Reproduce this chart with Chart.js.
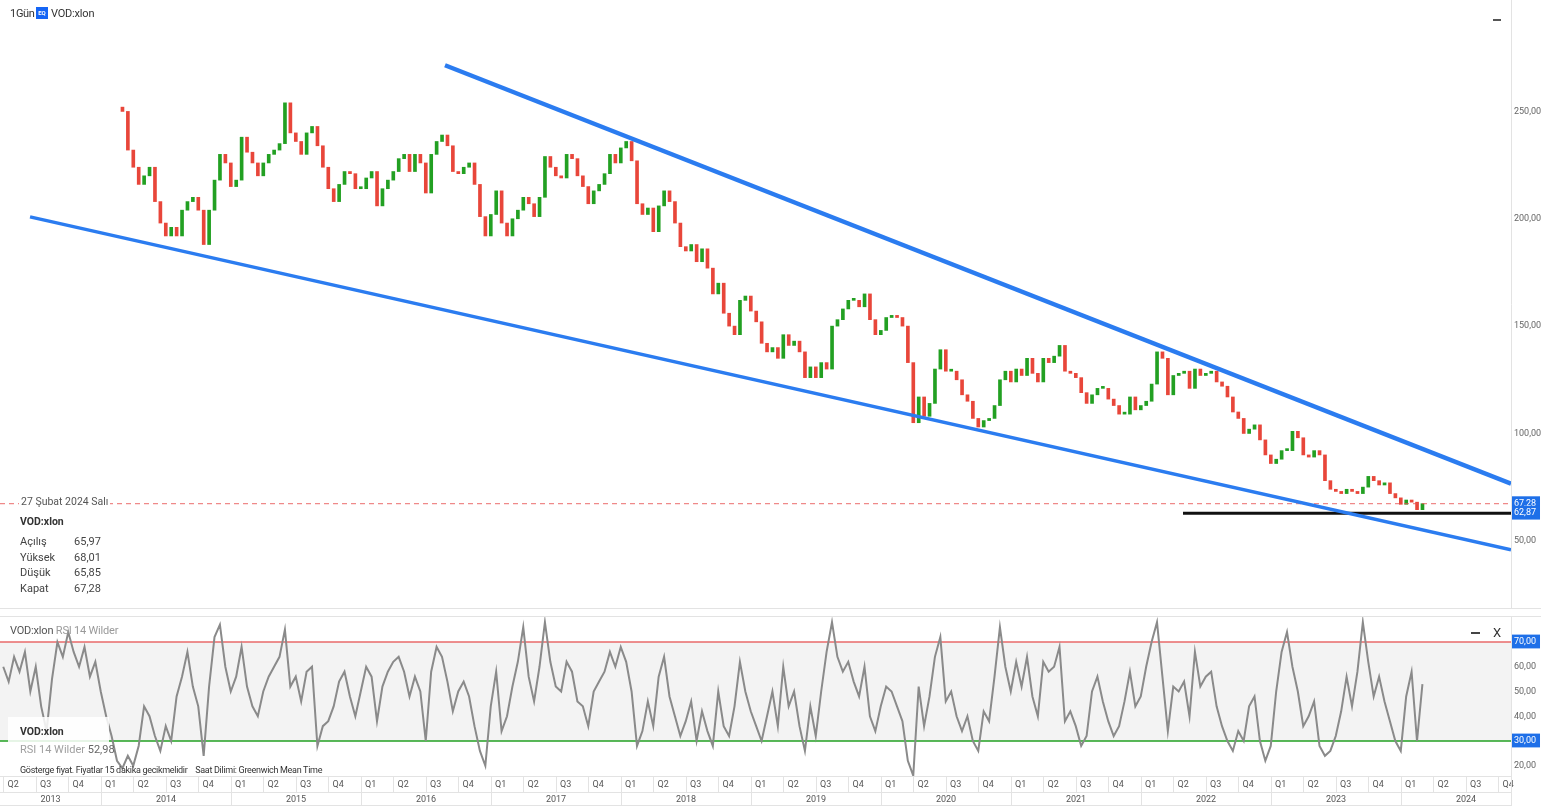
<!DOCTYPE html>
<html>
<head>
<meta charset="utf-8">
<script src="https://cdn.jsdelivr.net/npm/chart.js@4.4.1/dist/chart.umd.min.js"></script>
<style>
  body { margin: 0; width: 1541px; height: 809px; overflow: hidden; background: #fff;
         font-family: Roboto, "Liberation Sans", Arial, sans-serif; position: relative; }
  .box { position: absolute; }
  .t { position: absolute; white-space: nowrap; color: #444; line-height: 1; }
  .hl { position: absolute; background: #e3e3e3; }
</style>
</head>
<body>
<div class="box" style="left:0;top:0;width:1541px;height:608px"><canvas id="priceChart"></canvas></div>
<div class="box" style="left:0;top:608px;width:1541px;height:201px"><canvas id="rsiChart"></canvas></div>

<!-- panel separators -->
<div class="hl" style="left:0;top:608px;width:1541px;height:1px"></div>
<div class="hl" style="left:0;top:616px;width:1541px;height:1px"></div>
<div class="hl" style="left:0;top:805px;width:1511px;height:1px"></div>
<div class="hl" style="left:1511px;top:776px;width:1px;height:30px"></div>

<!-- price panel texts -->
<div class="t" style="left:10px;top:8px;font-size:11px;letter-spacing:-0.3px;color:#333">1Gün</div>
<div class="t" style="left:36px;top:7px;width:12px;height:12px;background:#1565f5;color:#fff;font-size:6px;font-weight:bold;line-height:12px;text-align:center">EQ</div>
<div class="t" style="left:51px;top:8px;font-size:11px;letter-spacing:-0.2px;color:#333">VOD:xlon</div>
<div class="t" style="left:1493px;top:19px;width:8px;height:1.5px;background:#555"></div>

<div class="t" style="left:19px;top:497px;font-size:10.5px;color:#555;background:#fff;padding:0 2px">27 Şubat 2024 Salı</div>
<div class="t" style="left:12px;top:512px;width:98px;height:86px;background:#fff"></div>
<div class="t" style="left:20px;top:517px;font-size:10.5px;font-weight:bold;color:#333">VOD:xlon</div>
<div class="t" style="left:20px;top:536px;font-size:11px">Açılış</div>
<div class="t" style="left:20px;top:552px;font-size:11px">Yüksek</div>
<div class="t" style="left:20px;top:567px;font-size:11px">Düşük</div>
<div class="t" style="left:20px;top:583px;font-size:11px">Kapat</div>
<div class="t" style="left:60px;width:41px;text-align:right;top:536px;font-size:11px">65,97</div>
<div class="t" style="left:60px;width:41px;text-align:right;top:552px;font-size:11px">68,01</div>
<div class="t" style="left:60px;width:41px;text-align:right;top:567px;font-size:11px">65,85</div>
<div class="t" style="left:60px;width:41px;text-align:right;top:583px;font-size:11px">67,28</div>

<!-- RSI panel texts -->
<div class="t" style="left:10px;top:625px;font-size:11px;letter-spacing:-0.2px;color:#555">VOD:xlon <span style="color:#9a9a9a">RSI 14 Wilder</span></div>
<div class="t" style="left:1471px;top:632px;width:9px;height:1.5px;background:#444"></div>
<div class="t" style="left:1493px;top:626px;font-size:13px;color:#333">X</div>
<div class="t" style="left:8px;top:717px;width:101px;height:41px;background:rgba(255,255,255,0.85)"></div>
<div class="t" style="left:20px;top:727px;font-size:10.5px;font-weight:bold;color:#333">VOD:xlon</div>
<div class="t" style="left:20px;top:744px;font-size:11px;color:#a0a0a0">RSI 14 Wilder <span style="color:#666">52,98</span></div>
<div class="t" style="left:20px;top:766px;font-size:9px;letter-spacing:-0.3px;color:#333">Gösterge fiyat. Fiyatlar 15 dakika gecikmelidir&nbsp;&nbsp;&nbsp;&nbsp;Saat Dilimi: Greenwich Mean Time</div>

<script>
// ---- data ----
// one value per half month; price bars start late Feb 2014, RSI starts Apr 2013
const priceStart = 2014.165;
const rsiStart = 2013.248;
const stepYears = 1 / 24;
const firstOpen = 252;

const closes = [
  250, 232, 224, 216, 220, 224, 208, 198, 192, 196,
  192, 204, 208, 210, 204, 188, 204, 218, 230, 226,
  215, 218, 238, 231, 226, 220, 226, 230, 232, 235,
  254, 240, 236, 230, 240, 243, 234, 224, 214, 208,
  216, 222, 221, 214, 214, 219, 222, 206, 214, 218,
  222, 228, 230, 222, 230, 226, 212, 230, 236, 239,
  234, 222, 221, 224, 226, 216, 201, 192, 202, 213,
  198, 192, 200, 204, 210, 207, 201, 210, 229, 224,
  220, 219, 230, 228, 220, 215, 207, 213, 216, 221,
  230, 226, 233, 236, 227, 207, 202, 205, 194, 206,
  213, 208, 198, 187, 185, 188, 180, 186, 177, 165,
  170, 156, 150, 146, 162, 164, 157, 152, 142, 138,
  140, 135, 146, 141, 143, 138, 126, 131, 126, 133,
  130, 150, 153, 158, 162, 162, 159, 165, 153, 146,
  148, 154, 155, 154, 150, 133, 105, 117, 108, 114,
  130, 139, 129, 129, 125, 118, 115, 107, 103, 106,
  107, 113, 125, 129, 124, 130, 127, 135, 128, 124,
  135, 133, 136, 141, 129, 128, 126, 119, 114, 118,
  121, 121, 116, 113, 109, 109, 117, 111, 113, 115,
  123, 138, 135, 118, 127, 128, 129, 121, 130, 127,
  128, 129, 124, 122, 117, 110, 107, 100, 102, 104,
  97, 90, 86, 88, 92, 92, 101, 98, 90, 89,
  92, 90, 78, 74, 73, 72, 74, 73, 72, 75,
  80, 78, 76, 77, 72, 70, 67, 69, 68, 64.5,
  67.28
];

const rsi14 = [
  60, 54, 64, 58, 66, 50, 60, 44, 34, 55,
  70, 64, 74, 66, 60, 68, 56, 62, 50, 40,
  32, 22, 19, 24, 20, 28, 44, 40, 32, 26,
  36, 30, 48, 56, 66, 52, 44, 24, 52, 72,
  77, 60, 50, 56, 68, 52, 44, 40, 50, 56,
  60, 64, 75, 52, 56, 46, 58, 60, 28, 36,
  38, 44, 54, 58, 48, 40, 50, 60, 56, 38,
  52, 58, 62, 64, 58, 48, 56, 50, 30, 58,
  68, 64, 54, 42, 50, 54, 48, 36, 26, 20,
  44, 58, 34, 40, 52, 62, 76, 56, 46, 60,
  78, 62, 52, 50, 62, 58, 46, 44, 36, 50,
  54, 58, 66, 60, 68, 62, 50, 28, 34, 46,
  36, 56, 64, 48, 40, 32, 38, 46, 30, 42,
  34, 28, 50, 36, 32, 44, 62, 50, 42, 36,
  30, 40, 50, 36, 60, 44, 50, 36, 26, 44,
  32, 50, 66, 78, 64, 58, 62, 54, 48, 60,
  40, 34, 44, 52, 50, 44, 38, 22, 16, 52,
  36, 48, 64, 72, 46, 50, 40, 34, 40, 30,
  26, 42, 38, 56, 76, 60, 50, 62, 52, 64,
  48, 40, 62, 58, 60, 68, 38, 42, 36, 28,
  32, 50, 56, 46, 38, 32, 36, 46, 58, 44,
  48, 60, 70, 78, 56, 34, 52, 50, 54, 40,
  66, 52, 56, 58, 44, 36, 30, 26, 34, 30,
  44, 48, 30, 22, 28, 50, 66, 74, 60, 50,
  36, 40, 46, 28, 24, 26, 32, 42, 56, 44,
  58, 78, 62, 48, 56, 46, 38, 30, 26, 48,
  58, 30, 52.98
];

const priceTicks = [50, 100, 150, 200, 250];
const rsiTicks = [20, 30, 40, 50, 60, 70];
const rsiUpper = 70;
const rsiLower = 30;
const lastClose = 67.28;
const supportLevel = 62.87;
const quarterNames = ['Q1', 'Q2', 'Q3', 'Q4'];
const years = [2013, 2014, 2015, 2016, 2017, 2018, 2019, 2020, 2021, 2022, 2023, 2024];

// drawn trendlines: [decimal year, price]
const upperTrend = [[2016.646, 271.5], [2024.846, 76.6]];
const lowerTrend = [[2013.454, 200.9], [2024.846, 45.8]];
const supportFrom = 2022.323;

// ---- view ----
const xMin = 2013.223, xMax = 2024.846;
const xRight = xMin + 1541 / 130;   // year row runs under the price axis too
const blue = '#2b7cf0';
const up = '#22a022', down = '#e8463a';
const axisBlue = '#1e6fe8';

Chart.defaults.font.family = 'Roboto, "Liberation Sans", Arial, sans-serif';
Chart.defaults.font.size = 9;
Chart.defaults.color = '#666';

const fmt = v => v.toFixed(2).replace('.', ',');
const pt = p => ({ x: p[0], y: p[1] });
const noPad = s => { s.paddingTop = 0; s.paddingBottom = 0; s.paddingLeft = 0; s.paddingRight = 0; };

const candles = closes.map((c, i) => ({
  x: priceStart + i * stepYears,
  y: [i ? closes[i - 1] : firstOpen, c]
}));

new Chart(document.getElementById('priceChart'), {
  type: 'bar',
  data: {
    datasets: [
      { type: 'line', data: upperTrend.map(pt), borderColor: blue, borderWidth: 4.5, pointRadius: 0, order: 0 },
      { type: 'line', data: lowerTrend.map(pt), borderColor: blue, borderWidth: 3.5, pointRadius: 0, order: 0 },
      { type: 'line', data: [{ x: supportFrom, y: supportLevel }, { x: xMax, y: supportLevel }],
        borderColor: '#111', borderWidth: 3, pointRadius: 0, order: 0 },
      { type: 'line', data: [{ x: xMin, y: lastClose }, { x: xMax, y: lastClose }],
        borderColor: 'rgba(232,80,80,0.85)', borderWidth: 1, borderDash: [5, 4], pointRadius: 0, order: 0 },
      {
        type: 'bar',
        data: candles,
        backgroundColor: ctx => (ctx.raw && ctx.raw.y[1] >= ctx.raw.y[0]) ? up : down,
        barThickness: 3,
        minBarLength: 2,
        order: 1
      }
    ]
  },
  options: {
    animation: false,
    responsive: true,
    maintainAspectRatio: false,
    layout: { padding: 0 },
    plugins: { legend: { display: false }, tooltip: { enabled: false } },
    scales: {
      x: { type: 'linear', min: xMin, max: xMax, offset: false, display: false },
      y: {
        position: 'right',
        min: 18.7,
        max: 301.9,
        grid: { display: false, drawTicks: false },
        border: { display: true, color: '#e3e3e3' },
        afterBuildTicks: s => { s.ticks = [lastClose, supportLevel, ...priceTicks].map(v => ({ value: v })); },
        afterFit: s => { s.width = 30; noPad(s); },
        ticks: {
          autoSkip: false,
          padding: 3,
          callback: v => fmt(v),
          color: c => (c.tick && (c.tick.value === lastClose || c.tick.value === supportLevel)) ? '#fff' : '#666',
          showLabelBackdrop: true,
          backdropColor: c => (c.tick && (c.tick.value === lastClose || c.tick.value === supportLevel)) ? axisBlue : 'rgba(0,0,0,0)',
          backdropPadding: { top: 2, bottom: 1, left: 2, right: 4 }
        }
      }
    }
  }
});

// quarter ticks and year ticks (boundaries + label centres)
const quarterTicks = [];
years.forEach(y => [0, 1, 2, 3].forEach(q => {
  const v = y + q / 4;
  if (v >= xMin && v <= xMax) quarterTicks.push({ value: v });
}));
const yearTicks = [];
years.forEach(y => {
  if (y >= xMin) yearTicks.push({ value: y });
  const a = Math.max(y, xMin), b = Math.min(y + 1, xRight);
  yearTicks.push({ value: (a + b) / 2 });
});

new Chart(document.getElementById('rsiChart'), {
  type: 'line',
  data: {
    datasets: [
      { data: rsi14.map((v, j) => ({ x: rsiStart + j * stepYears, y: v })),
        borderColor: '#8a8a8a', borderWidth: 2, pointRadius: 0, order: 0 },
      { data: [{ x: xMin, y: rsiUpper }, { x: xMax, y: rsiUpper }],
        borderColor: '#e86a6a', borderWidth: 1.5, pointRadius: 0, order: 1 },
      { data: [{ x: xMin, y: rsiLower }, { x: xMax, y: rsiLower }],
        borderColor: '#22a022', borderWidth: 1.5, pointRadius: 0, order: 1,
        fill: '-1', backgroundColor: '#f3f3f3' }
    ]
  },
  options: {
    animation: false,
    responsive: true,
    maintainAspectRatio: false,
    layout: { padding: { top: 9, bottom: 3, left: 0, right: 0 } },
    plugins: { legend: { display: false }, tooltip: { enabled: false } },
    scales: {
      x: {
        type: 'linear', min: xMin, max: xMax, offset: false, position: 'bottom', weight: 0,
        grid: { drawOnChartArea: false, drawTicks: true, tickLength: 16, color: '#e3e3e3' },
        border: { display: true, color: '#e3e3e3' },
        afterBuildTicks: s => { s.ticks = quarterTicks.map(t => ({ value: t.value })); },
        afterFit: s => { s.height = 16; noPad(s); },
        ticks: {
          autoSkip: false, maxRotation: 0, align: 'start', labelOffset: 4, padding: -13,
          color: '#555',
          callback: v => quarterNames[Math.round((v - Math.floor(v)) * 4) % 4]
        }
      },
      x2: {
        type: 'linear', min: xMin, max: xMax, offset: false, position: 'bottom', weight: 1,
        grid: { drawOnChartArea: false, drawTicks: true, tickLength: 14,
                color: c => (c.tick && c.tick.value % 1 === 0) ? '#e3e3e3' : 'rgba(0,0,0,0)' },
        border: { display: true, color: '#e3e3e3' },
        afterBuildTicks: s => { s.ticks = yearTicks.map(t => ({ value: t.value })); },
        afterFit: s => { s.height = 14; noPad(s); },
        ticks: {
          autoSkip: false, maxRotation: 0, padding: -12, color: '#555',
          callback: v => (v % 1 === 0) ? '' : String(Math.floor(v))
        }
      },
      y: {
        position: 'right',
        min: 15.86,
        max: 80.1,
        grid: { display: false, drawTicks: false },
        border: { display: true, color: '#e3e3e3' },
        afterBuildTicks: s => { s.ticks = rsiTicks.map(v => ({ value: v })); },
        afterFit: s => { s.width = 30; noPad(s); },
        ticks: {
          autoSkip: false,
          padding: 3,
          callback: v => fmt(v),
          color: c => (c.tick && (c.tick.value === rsiUpper || c.tick.value === rsiLower)) ? '#fff' : '#666',
          showLabelBackdrop: true,
          backdropColor: c => (c.tick && (c.tick.value === rsiUpper || c.tick.value === rsiLower)) ? axisBlue : 'rgba(0,0,0,0)',
          backdropPadding: { top: 2, bottom: 1, left: 2, right: 4 }
        }
      }
    }
  }
});
</script>
</body>
</html>
